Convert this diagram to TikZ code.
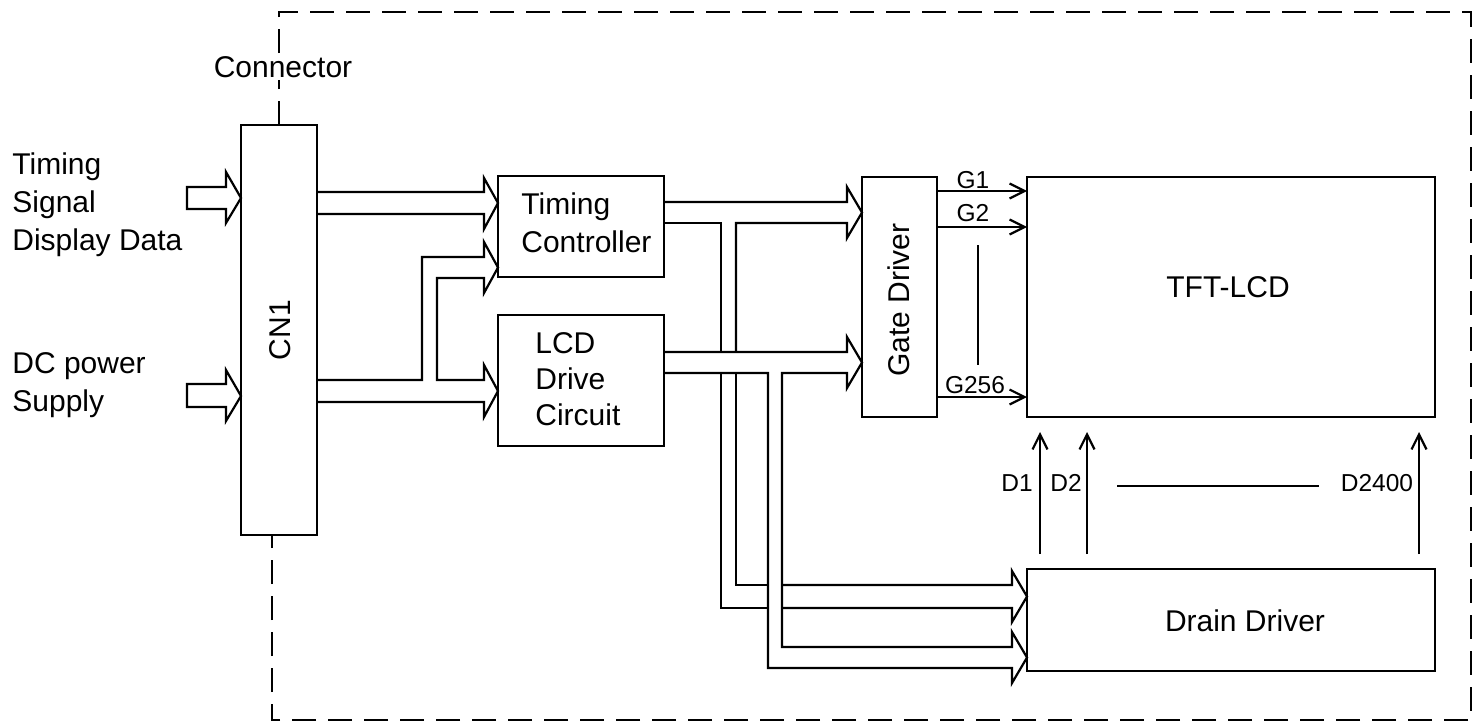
\documentclass[tikz,border=0pt]{standalone}
\usepackage{fontspec}
\setmainfont{Liberation Sans}
\usetikzlibrary{arrows.meta,positioning,calc}
\tikzset{
  block/.style={draw, line width=1.1pt, inner sep=0pt, outer sep=0pt},
  blocktext/.style={align=left, inner sep=0pt, font=\fontsize{15}{19}\selectfont},
  smalltext/.style={inner sep=0pt, font=\fontsize{12.25}{14}\selectfont},
  bus/.style={line width=1.1pt, line join=miter},
  sig/.style={line width=1.1pt, -{Straight Barb[length=7.5pt,width=7.5pt]}},
  frame/.style={line width=1.1pt, dash pattern=on 12pt off 6pt}
}

\begin{document}
\begin{tikzpicture}[x=0.5pt,y=-0.5pt]
  \useasboundingbox (0,0) rectangle (1482,724);

  % blocks
  \node[block, minimum width=38pt, minimum height=205pt] (cn1) at (279,330) {};
  \node[block, minimum width=83pt, minimum height=50.5pt] (tc) at (581,226.5) {};
  \node[block, minimum width=83pt, minimum height=65.5pt] (lcd) at (581,380.5) {};
  \node[block, minimum width=37.5pt, minimum height=120pt] (gd) at (899.5,297) {};
  \node[block, minimum width=204pt, minimum height=120pt] (tft) at (1231,297) {};
  \node[block, minimum width=204pt, minimum height=51pt] (dd) at (1231,620) {};

  % texts
  \node[blocktext, rotate=90] (cn1lbl) at (280,330) {CN1};
  \node[blocktext, anchor=west] (tclbl) at (521,222.5) {Timing\\Controller};
  \node[blocktext, anchor=west, font=\fontsize{15}{18}\selectfont] (lcdlbl) at (535,379) {LCD\\Drive\\Circuit};
  \node[blocktext, rotate=90] (gdlbl) at (899,300) {Gate Driver};
  \node[blocktext] (tftlbl) at (1228,287) {TFT-LCD};
  \node[blocktext] (ddlbl) at (1245,621) {Drain Driver};
  \node[blocktext, anchor=west] (tsig) at (12,205) {Timing\\Signal\\Display Data};
  \node[blocktext, anchor=west] (dcin) at (12,385) {DC power\\Supply};

  % inputs to CN1
  \draw[bus] (187,187) -- (226,187) -- (226,172) -- (cn1.west |- 0,198) -- (226,223) -- (226,209) -- (187,209) -- cycle;
  \draw[bus] (187,384) -- (226,384) -- (226,370) -- (cn1.west |- 0,396) -- (226,421) -- (226,407) -- (187,407) -- cycle;

  % CN1 to timing controller / LCD drive circuit
  \draw[bus] (cn1.east |- 0,192) -- (484,192) -- (484,178) -- (tc.west |- 0,203) -- (484,229) -- (484,214) -- (cn1.east |- 0,214);
  \draw[bus] (cn1.east |- 0,380) -- (422,380) -- (422,257) -- (484,257) -- (484,242) -- (tc.west |- 0,267.5)
    -- (484,293) -- (484,278) -- (437,278) -- (437,380) -- (484,380) -- (484,365) -- (lcd.west |- 0,391)
    -- (484,417) -- (484,402) -- (cn1.east |- 0,402);

  % timing controller to gate / drain driver
  \draw[bus] (tc.east |- 0,202) -- (847,202) -- (847,187) -- (gd.west |- 0,212.5) -- (847,238) -- (847,223) -- (736,223) -- (736,352);
  \draw[bus] (736,373) -- (736,585) -- (768,585);
  \draw[bus] (782,585) -- (1012,585) -- (1012,571) -- (dd.west |- 0,596.5) -- (1012,622) -- (1012,608) -- (782,608);
  \draw[bus] (768,608) -- (721,608) -- (721,373);
  \draw[bus] (721,352) -- (721,223) -- (tc.east |- 0,223);

  % LCD drive circuit to gate / drain driver
  \draw[bus] (lcd.east |- 0,352) -- (847,352) -- (847,337) -- (gd.west |- 0,362.5) -- (847,388) -- (847,373)
    -- (782,373) -- (782,647) -- (1012,647) -- (1012,632) -- (dd.west |- 0,657.5) -- (1012,683) -- (1012,668)
    -- (768,668) -- (768,373) -- (lcd.east |- 0,373);

  % gate lines
  \draw[sig] (gd.east |- 0,191) -- (tft.west |- 0,191);
  \draw[sig] (gd.east |- 0,227) -- (tft.west |- 0,227);
  \draw[sig] (gd.east |- 0,397) -- (tft.west |- 0,397);
  \node[smalltext] (g1) at (973,180) {G1};
  \node[smalltext] (g2) at (973,213) {G2};
  \node[smalltext] (g256) at (975,385) {G256};
  \draw[line width=1.1pt] (978,245) -- (978,365);

  % drain lines
  \draw[sig] ($(dd.north -| 1040,0)+(0,-15)$) -- ($(tft.south -| 1040,0)+(0,15)$);
  \draw[sig] ($(dd.north -| 1087,0)+(0,-15)$) -- ($(tft.south -| 1087,0)+(0,15)$);
  \draw[sig] ($(dd.north -| 1419,0)+(0,-15)$) -- ($(tft.south -| 1419,0)+(0,15)$);
  \node[smalltext] (d1) at (1017,483) {D1};
  \node[smalltext] (d2) at (1066,483) {D2};
  \node[smalltext] (d2400) at (1377,483) {D2400};
  \draw[line width=1.1pt] (1117,486) -- (1319,486);

  % module outline
  \draw[frame] (cn1.north) -- (cn1.north |- 0,12) -- (1471,12) -- (1471,720) -- (272,720) -- (cn1.south -| 272,0);
  \node[blocktext, fill=white, inner sep=1pt] (conn) at (283,67) {Connector};
\end{tikzpicture}
\end{document}
